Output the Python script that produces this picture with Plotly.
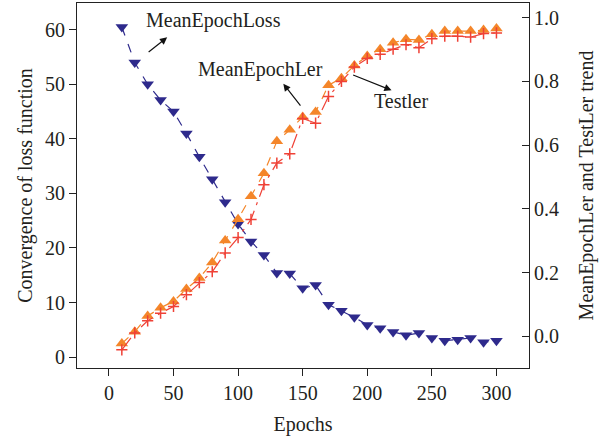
import plotly.graph_objects as go

epochs = list(range(10, 301, 10))
mean_epoch_loss = [60.5, 54.0, 50.0, 47.1, 45.0, 41.0, 36.7, 32.6, 28.4, 24.4,
                   21.2, 18.7, 15.4, 15.3, 12.6, 13.2, 9.6, 8.5, 7.3, 5.9,
                   5.3, 4.6, 4.0, 4.4, 3.5, 3.0, 3.2, 3.5, 2.7, 3.0]
mean_epoch_ler = [-0.022, 0.015, 0.064, 0.090, 0.110, 0.149, 0.183, 0.232, 0.301, 0.368,
                  0.440, 0.512, 0.612, 0.648, 0.688, 0.704, 0.788, 0.810, 0.850, 0.880,
                  0.901, 0.921, 0.932, 0.930, 0.948, 0.958, 0.958, 0.958, 0.961, 0.966]
test_ler = [-0.042, 0.011, 0.049, 0.073, 0.094, 0.131, 0.169, 0.203, 0.262, 0.310,
            0.367, 0.476, 0.544, 0.573, 0.684, 0.669, 0.753, 0.800, 0.845, 0.872,
            0.885, 0.901, 0.915, 0.906, 0.934, 0.942, 0.942, 0.939, 0.950, 0.952]

x_ticks = [0, 50, 100, 150, 200, 250, 300]
y_ticks = [0, 10, 20, 30, 40, 50, 60]
y2_ticks = [0.0, 0.2, 0.4, 0.6, 0.8, 1.0]

BLUE = "#2e2a8c"
ORANGE = "#f4862a"
RED = "#ef4136"
TXT = "#231f20"
FONT = "Liberation Serif"

fig = go.Figure()
fig.add_trace(go.Scatter(
    x=epochs, y=mean_epoch_ler, yaxis="y2", mode="lines+markers", name="MeanEpochLer",
    line=dict(color=ORANGE, width=1.2, dash="dash"),
    marker=dict(symbol="triangle-up", size=11, color=ORANGE)))
fig.add_trace(go.Scatter(
    x=epochs, y=test_ler, yaxis="y2", mode="lines+markers", name="Testler",
    line=dict(color=RED, width=1.2, dash="longdashdot"),
    marker=dict(symbol="cross-thin", size=8, color=RED, line=dict(color=RED, width=1.5))))
fig.add_trace(go.Scatter(
    x=epochs, y=mean_epoch_loss, mode="lines+markers", name="MeanEpochLoss",
    line=dict(color=BLUE, width=1.2, dash="dash"),
    marker=dict(symbol="triangle-down", size=11, color=BLUE)))

font = dict(family=FONT, size=20, color=TXT)

annotations = [
    dict(x=80.7, y=61.7, text="MeanEpochLoss", showarrow=False),
    dict(x=117.7, y=52.7, text="MeanEpochLer", showarrow=False),
    dict(x=226.1, y=46.9, text="Testler", showarrow=False),
    dict(x=45.1, y=58.6, ax=29.6, ay=55.7, text="", showarrow=True),
    dict(x=135.0, y=50.1, ax=149.2, ay=45.8, text="", showarrow=True),
    dict(x=218.8, y=48.9, ax=187.9, ay=51.8, text="", showarrow=True),
]
for a in annotations:
    a.update(xref="x", yref="y", font=font)
    if a["showarrow"]:
        a.update(axref="x", ayref="y", arrowhead=2, arrowsize=1.2, arrowwidth=1.2,
                 arrowcolor="#111111")
    fig.add_annotation(**a)

fig.update_layout(
    width=611, height=439,
    margin=dict(l=77, r=82, t=3, b=71),
    paper_bgcolor="white", plot_bgcolor="white",
    showlegend=False,
    font=font,
    xaxis=dict(range=[-24.7, 325.2], tickvals=x_ticks, ticks="outside", ticklen=7,
               showline=True, linecolor="#222", linewidth=1.2, mirror=True,
               showgrid=False, zeroline=False, tickcolor="#222", automargin=False,
               title=dict(text="Epochs", font=font, standoff=13)),
    yaxis=dict(range=[-2.0, 64.9], tickvals=y_ticks, ticks="outside", ticklen=7,
               showline=True, linecolor="#222", linewidth=1.2, mirror=True,
               showgrid=False, zeroline=False, tickcolor="#222", automargin=False,
               title=dict(text="Convergence of loss function", font=font, standoff=6)),
    yaxis2=dict(range=[-0.099, 1.046], tickvals=y2_ticks, tickformat=".1f",
                overlaying="y", side="right", ticks="inside", ticklen=7,
                showline=False, showgrid=False, zeroline=False, tickcolor="#222",
                automargin=False, ticklabelstandoff=4,
                title=dict(text="MeanEpochLer and TestLer trend", font=font, standoff=20)),
)

fig.write_html("out.html", config={"displayModeBar": False},
               post_script="document.body.style.margin='0';")
